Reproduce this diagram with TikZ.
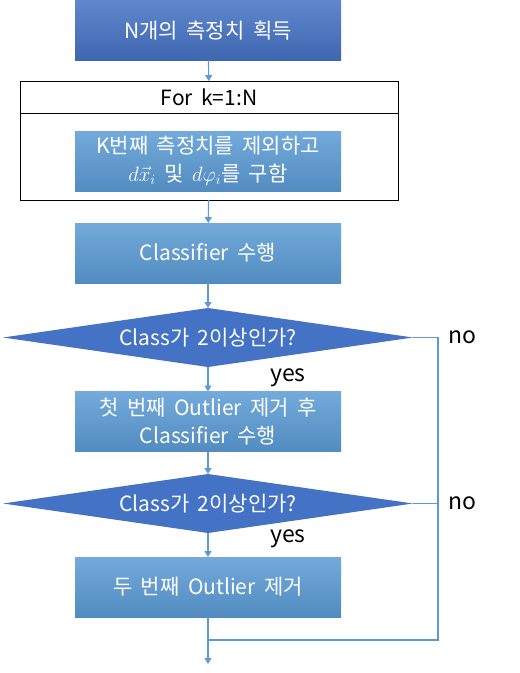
\documentclass[tikz,border=0pt]{standalone}
\usepackage{amsmath}
\usepackage{fontspec}
\setmainfont[WordSpace=1.8]{Noto Sans CJK KR}
\usepackage{tikz}
\usetikzlibrary{arrows.meta,shapes.geometric}

\definecolor{darkbox}{HTML}{4472C4}
\definecolor{lightbox}{HTML}{5B9BD5}

\tikzset{
  proc/.style={rectangle,minimum width=266pt,minimum height=60pt,inner sep=0pt,outer sep=0pt,
    top color=lightbox!85!white,bottom color=lightbox!90!black,text=white,align=center,
    font=\fontsize{21}{28}\selectfont},
  start/.style={proc,top color=darkbox!85!white,bottom color=darkbox!90!black},
  test/.style={diamond,minimum width=410pt,minimum height=59pt,inner sep=0pt,outer sep=0pt,
    fill=darkbox,text=white,font=\fontsize{21}{24}\selectfont},
  frame/.style={rectangle,draw=black,line width=1pt,minimum width=378pt,inner sep=0pt,outer sep=0pt},
  lab/.style={font=\fontsize{23}{26}\selectfont}
}

\begin{document}
\begin{tikzpicture}[x=1pt,y=-1pt,>={Triangle[width=7pt,length=6pt]},
    every edge/.style={draw=lightbox,line width=1.1pt}]
  \useasboundingbox (0,0) rectangle (520,673);

  \node[start]                       (1) at (208,30.5) {N개의 측정치 획득};
  \node[frame,minimum height=32pt,font=\fontsize{21}{24}\selectfont] (2) at (209,97) {For k=1:N};
  \node[frame,minimum height=87pt]   (3) at (209,156.5) {};
  \node[proc]                        (4) at (208,161) {K번째 측정치를 제외하고\\$d\vec{x}_i$ 및 $d\varphi_i$를 구함};
  \node[proc]                        (5) at (208,253) {Classifier 수행};
  \node[test]                        (6) at (208,337.5) {\makebox[0pt]{Class가 2이상인가?}};
  \node[proc]                        (7) at (208,421.5) {첫 번째 Outlier 제거 후\\Classifier 수행};
  \node[test]                        (8) at (208,503.5) {\makebox[0pt]{Class가 2이상인가?}};
  \node[proc]                        (9) at (208,587) {두 번째 Outlier 제거};

  \coordinate (j) at (208,640);
  \coordinate (r) at (438,640);
  \coordinate (e) at (208,664);

  \path[->] (1) edge (2)
            (3) edge (5)
            (5) edge (6)
            (6) edge (7)
            (7) edge (8)
            (8) edge (9)
            (j) edge (e);
  \draw[lightbox,line width=1.1pt] (9) -- (j) -- (r) |- (6.east);
  \draw[lightbox,line width=1.1pt] (8.east) -- (8.east -| r);

  \node[lab] (n1) at (462,337) {no};
  \node[lab] (n2) at (462,503) {no};
  \node[lab] (y1) at (288,378) {yes};
  \node[lab] (y2) at (288,539) {yes};
\end{tikzpicture}
\end{document}
